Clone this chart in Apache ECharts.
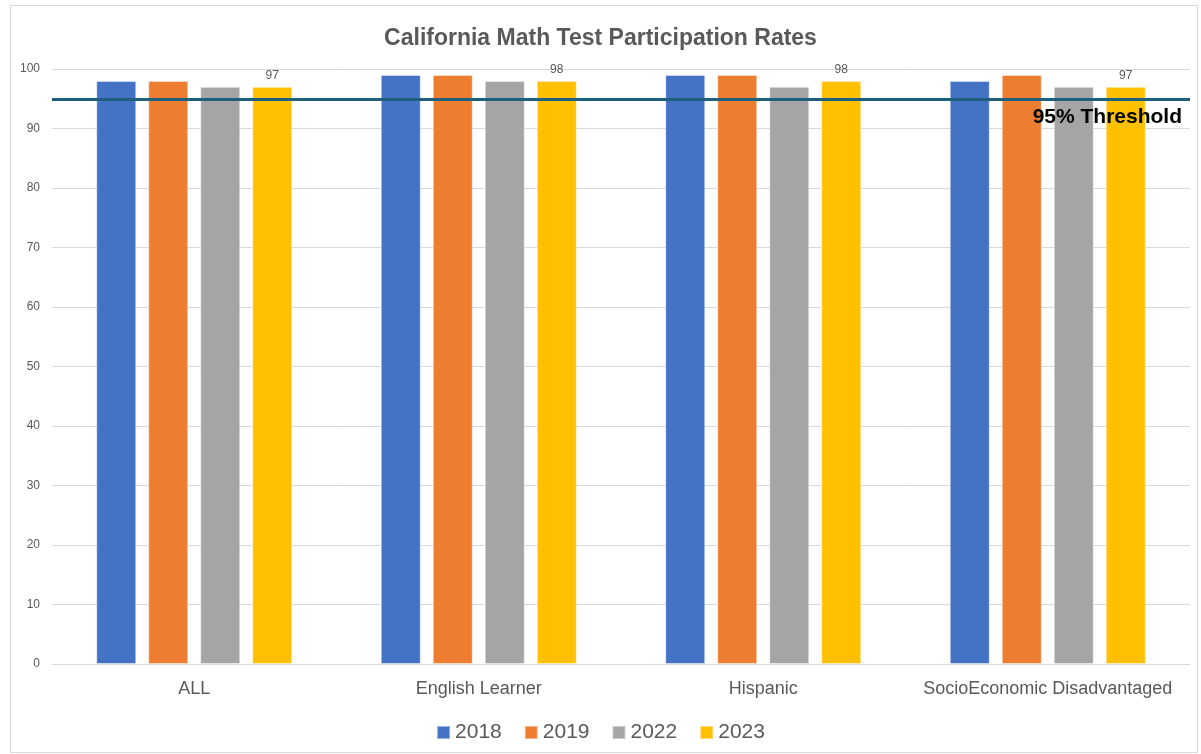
<!DOCTYPE html>
<html>
<head>
<meta charset="utf-8">
<script src="https://cdn.jsdelivr.net/npm/echarts@6/dist/echarts.min.js"></script>
<style>
  html, body { margin: 0; padding: 0; background: #ffffff; }
  #frame { position: absolute; left: 10px; top: 5px; width: 1188px; height: 748px; border: 1px solid #d9d9d9; box-sizing: border-box; }
  #chart { width: 1201px; height: 754px; position: absolute; left: 0; top: 0; }
</style>
</head>
<body>
<div id="frame"></div>
<div id="chart"></div>
<script>
// Participation rates (%) by student group and year
const categories = ['ALL', 'English Learner', 'Hispanic', 'SocioEconomic Disadvantaged'];
const years = ['2018', '2019', '2022', '2023'];
const rates2018 = [98, 99, 99, 98];
const rates2019 = [98, 99, 99, 99];
const rates2022 = [97, 98, 97, 97];
const rates2023 = [97, 98, 98, 97];
const threshold = 95;
const yTicks = { min: 0, max: 100, interval: 10 };

const colors = ['#4472C4', '#ED7D31', '#A5A5A5', '#FFC000'];
const seriesValues = [rates2018, rates2019, rates2022, rates2023];

const series = years.map((y, i) => ({
  name: y,
  type: 'bar',
  data: seriesValues[i],
  barWidth: 40,
  barGap: '30%',
  itemStyle: { color: colors[i], borderColor: 'rgba(255,255,255,0.45)', borderWidth: 1 },
  label: i === 3 ? {
    show: true, position: 'top', distance: 5,
    color: '#595959', fontSize: 12, fontFamily: 'Liberation Sans'
  } : { show: false },
  markLine: i === 0 ? {
    symbol: 'none',
    silent: true,
    data: [{ yAxis: threshold }],
    lineStyle: { color: '#1F5F7E', width: 3, type: 'solid' },
    label: {
      show: true,
      position: 'insideEndBottom',
      formatter: '95% Threshold',
      color: '#000000',
      fontSize: 21,
      fontWeight: 'bold',
      fontFamily: 'Liberation Sans',
      distance: [8, 8]
    }
  } : undefined,
  z: 2
}));

const chart = echarts.init(document.getElementById('chart'), null, { renderer: 'canvas' });
chart.setOption({
  animation: false,
  backgroundColor: 'transparent',
  title: {
    text: 'California Math Test Participation Rates',
    left: 'center', top: 22,
    textStyle: { color: '#595959', fontSize: 23, fontWeight: 'bold', fontFamily: 'Liberation Sans' }
  },
  legend: {
    bottom: 6, left: 'center',
    itemWidth: 13, itemHeight: 13, itemGap: 22,
    icon: 'rect',
    textStyle: { color: '#595959', fontSize: 21, fontFamily: 'Liberation Sans' }
  },
  grid: { left: 52, right: 11, top: 69, bottom: 90 },
  xAxis: {
    type: 'category',
    data: categories,
    axisLine: { show: true, lineStyle: { color: '#d9d9d9' } },
    axisTick: { show: false },
    axisLabel: {
      interval: 0, hideOverlap: false,
      color: '#595959', fontSize: 18, margin: 16, fontFamily: 'Liberation Sans'
    }
  },
  yAxis: {
    type: 'value',
    min: yTicks.min, max: yTicks.max, interval: yTicks.interval,
    axisLine: { show: false },
    axisTick: { show: false },
    splitLine: { lineStyle: { color: '#d9d9d9', width: 1 } },
    axisLabel: { color: '#595959', fontSize: 12, margin: 12, fontFamily: 'Liberation Sans' }
  },
  series: series
});
</script>
</body>
</html>
